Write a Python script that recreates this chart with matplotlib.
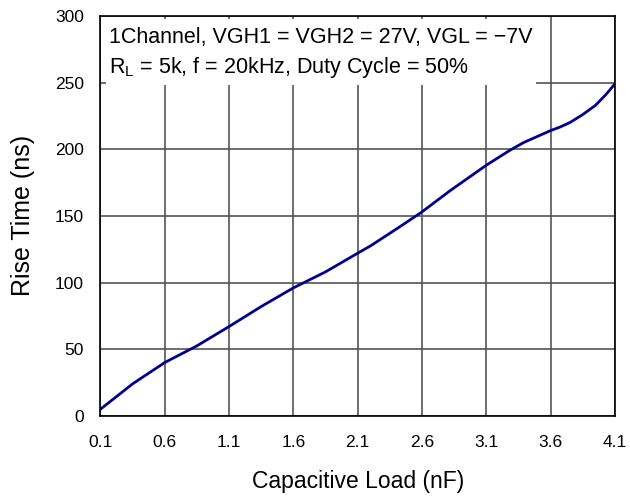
import matplotlib
matplotlib.use("Agg")
import matplotlib.pyplot as plt
from matplotlib.patches import Rectangle

plt.rcParams['font.family'] = ['Liberation Sans', 'DejaVu Sans']
plt.rcParams['mathtext.fontset'] = 'custom'
plt.rcParams['mathtext.rm'] = 'Liberation Sans'

# Rise time vs capacitive load
load_nf = [0.1, 0.35, 0.6, 0.85, 1.1, 1.35, 1.6, 1.85, 2.1, 2.2, 2.43, 2.6,
           2.82, 3.1, 3.28, 3.39, 3.6, 3.67, 3.75, 3.85, 3.95, 4.03, 4.1]
rise_ns = [5, 24, 40, 52.5, 67, 82, 96, 108, 122, 127.5, 142, 153,
           169, 188, 199, 205, 214, 216.5, 220, 226, 233, 241, 249]

x_ticks = [0.1, 0.6, 1.1, 1.6, 2.1, 2.6, 3.1, 3.6, 4.1]
y_ticks = [0, 50, 100, 150, 200, 250, 300]

note_1 = "1Channel, VGH1 = VGH2 = 27V, VGL = \u22127V"
note_2 = "R$_\\mathregular{L}$ = 5k, f = 20kHz, Duty Cycle = 50%"

fig = plt.figure(figsize=(6.3, 4.98), dpi=100)
ax = fig.add_axes([0.1595, 0.165, 0.8165, 0.803])

ax.plot(load_nf, rise_ns, color='#000090', linewidth=2, zorder=4)

ax.set_xlim(0.1, 4.1)
ax.set_ylim(0, 300)
ax.set_xticks(x_ticks)
ax.set_xticklabels([f"{v:.1f}" for v in x_ticks])
ax.set_yticks(y_ticks)
ax.tick_params(length=0, labelsize=12.5, pad=14)
ax.tick_params(axis='y', pad=12)
ax.grid(True, color='#555555', linewidth=1.2)
for s in ax.spines.values():
    s.set_color('black')
    s.set_linewidth(1.2)
    s.set_zorder(5)

ax.set_xlabel("Capacitive Load (nF)", fontsize=16.5, labelpad=14)
ax.set_ylabel("Rise Time (ns)", fontsize=18, labelpad=14)

# white note area (no border) hiding the grid behind the text
box = Rectangle((0.14, 248.3), 3.35, 49.5, facecolor='white', edgecolor='none',
                zorder=3)
ax.add_patch(box)
ax.text(0.165, 284, note_1, fontsize=15.5, va='center', ha='left', zorder=4)
ax.text(0.165, 261.5, note_2, fontsize=15.5, va='center', ha='left', zorder=4)

fig.savefig("out.png", dpi=100)
